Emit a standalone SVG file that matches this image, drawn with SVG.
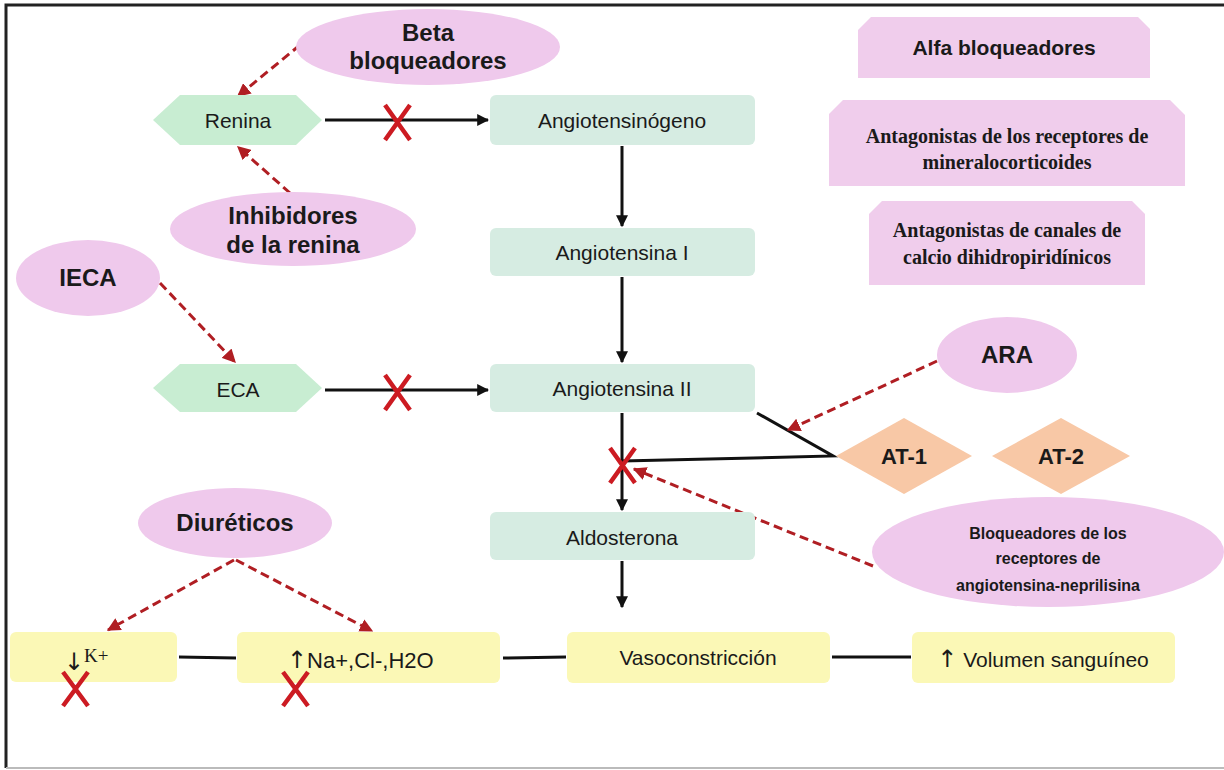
<svg xmlns="http://www.w3.org/2000/svg" width="1224" height="770" viewBox="0 0 1224 770">
<defs>
<marker id="ab" viewBox="0 0 10 10" refX="9" refY="5" markerWidth="4" markerHeight="4" orient="auto-start-reverse"><path d="M0,0 L10,5 L0,10 z" fill="#111"/></marker>
<marker id="ar" viewBox="0 0 10 10" refX="9" refY="5" markerWidth="4.5" markerHeight="4.5" orient="auto"><path d="M0,0 L10,5 L0,10 z" fill="#b01e23"/></marker>
</defs>
<style>
.sans{font-family:"Liberation Sans",Arial,sans-serif;fill:#1a1a1a}
.lbl{font-size:21px}
.bold{font-weight:bold}
.big{font-size:24px}
.serif{font-family:"Liberation Serif","Times New Roman",serif;font-weight:bold;font-size:20px;fill:#1a1a1a}
.arr{font-family:"DejaVu Sans",sans-serif;fill:#1a1a1a}
.ell{fill:#efc9ec}
.pbox{fill:#f0cdec}
.hex{fill:#c8edd2}
.gbox{fill:#d6ece2}
.ybox{fill:#fbf8b6}
.dia{fill:#f8c8a6}
.solid{stroke:#111;stroke-width:3;fill:none}
.dash{stroke:#b01e23;stroke-width:3;stroke-dasharray:9 5;fill:none}
.x{stroke:#cc1b22;stroke-width:4.5;fill:none;stroke-linecap:butt}
</style>
<rect x="0" y="0" width="1224" height="770" fill="#fff"/>
<path d="M6,768 L6,5 L1224,5" stroke="#222" stroke-width="3" fill="none"/>
<line x1="6" y1="768" x2="1224" y2="768" stroke="#bbb" stroke-width="2"/>

<g id="connectors">
<line class="solid" x1="325" y1="120" x2="488" y2="120" marker-end="url(#ab)"/>
<line class="solid" x1="325" y1="390" x2="488" y2="390" marker-end="url(#ab)"/>
<line class="solid" x1="622" y1="146" x2="622" y2="226" marker-end="url(#ab)"/>
<line class="solid" x1="622" y1="277" x2="622" y2="362" marker-end="url(#ab)"/>
<line class="solid" x1="622" y1="413" x2="622" y2="510" marker-end="url(#ab)"/>
<line class="solid" x1="622" y1="561" x2="622" y2="607" marker-end="url(#ab)"/>
<polyline class="solid" points="757,413 833,456 622,461"/>
<line class="solid" x1="179" y1="657" x2="236" y2="658"/>
<line class="solid" x1="503" y1="658" x2="566" y2="657"/>
<line class="solid" x1="832" y1="657" x2="911" y2="657"/>
<line class="dash" x1="300" y1="45" x2="238" y2="96" marker-end="url(#ar)"/>
<line class="dash" x1="290" y1="193" x2="238" y2="147" marker-end="url(#ar)"/>
<line class="dash" x1="160" y1="283" x2="235" y2="362" marker-end="url(#ar)"/>
<line class="dash" x1="937" y1="361" x2="788" y2="430" marker-end="url(#ar)"/>
<line class="dash" x1="873" y1="566" x2="634" y2="469" marker-end="url(#ar)"/>
<line class="dash" x1="234" y1="560" x2="108" y2="630" marker-end="url(#ar)"/>
<line class="dash" x1="236" y1="560" x2="372" y2="631" marker-end="url(#ar)"/>
</g>

<g id="beta">
<ellipse class="ell" cx="428" cy="47" rx="132" ry="38"/>
<text class="sans bold big" x="428" y="41" text-anchor="middle">Beta</text>
<text class="sans bold big" x="428" y="69" text-anchor="middle">bloqueadores</text>
</g>
<g id="renina">
<polygon class="hex" points="153,120 180,95 296,95 322,120 296,145 180,145"/>
<text class="sans lbl" x="238" y="128" text-anchor="middle">Renina</text>
</g>
<g id="inhibidores">
<ellipse class="ell" cx="293" cy="229" rx="123" ry="37"/>
<text class="sans bold big" x="293" y="224" text-anchor="middle">Inhibidores</text>
<text class="sans bold big" x="293" y="253" text-anchor="middle">de la renina</text>
</g>
<g id="ieca">
<ellipse class="ell" cx="88" cy="278" rx="72" ry="38"/>
<text class="sans bold big" x="88" y="286" text-anchor="middle">IECA</text>
</g>
<g id="eca">
<polygon class="hex" points="153,388 180,364 296,364 322,388 296,412 180,412"/>
<text class="sans lbl" x="238" y="397" text-anchor="middle">ECA</text>
</g>
<g id="angiotensinogeno">
<rect class="gbox" x="490" y="95" width="265" height="50" rx="6"/>
<text class="sans lbl" x="622" y="128" text-anchor="middle">Angiotensinógeno</text>
</g>
<g id="angiotensina1">
<rect class="gbox" x="490" y="228" width="265" height="48" rx="6"/>
<text class="sans lbl" x="622" y="260" text-anchor="middle">Angiotensina I</text>
</g>
<g id="angiotensina2">
<rect class="gbox" x="490" y="364" width="265" height="48" rx="6"/>
<text class="sans lbl" x="622" y="396" text-anchor="middle">Angiotensina II</text>
</g>
<g id="aldosterona">
<rect class="gbox" x="490" y="512" width="265" height="48" rx="6"/>
<text class="sans lbl" x="622" y="545" text-anchor="middle">Aldosterona</text>
</g>
<g id="alfa">
<path class="pbox" d="M871,17 L1138,17 L1150,29 L1150,78 L858,78 L858,30 Z"/>
<text class="sans bold" font-size="21" x="1004" y="55" text-anchor="middle">Alfa bloqueadores</text>
</g>
<g id="mineralo">
<path class="pbox" d="M843,100 L1170,100 L1185,115 L1185,186 L829,186 L829,114 Z"/>
<text class="serif" x="1007" y="143" text-anchor="middle">Antagonistas  de los receptores de</text>
<text class="serif" x="1007" y="169" text-anchor="middle">mineralocorticoides</text>
</g>
<g id="calcio">
<path class="pbox" d="M882,201 L1132,201 L1145,214 L1145,285 L869,285 L869,214 Z"/>
<text class="serif" x="1007" y="237" text-anchor="middle">Antagonistas  de canales de</text>
<text class="serif" x="1007" y="264" text-anchor="middle">calcio dihidropiridínicos</text>
</g>
<g id="ara">
<ellipse class="ell" cx="1007" cy="355" rx="70" ry="38"/>
<text class="sans bold big" x="1007" y="363" text-anchor="middle">ARA</text>
</g>
<g id="at1">
<polygon class="dia" points="836,456 904,418 972,456 904,494"/>
<text class="sans bold" font-size="22" x="904" y="464" text-anchor="middle">AT-1</text>
</g>
<g id="at2">
<polygon class="dia" points="992,456 1061,418 1130,456 1061,494"/>
<text class="sans bold" font-size="22" x="1061" y="464" text-anchor="middle">AT-2</text>
</g>
<g id="bloqueadores">
<ellipse class="ell" cx="1048" cy="552" rx="176" ry="55"/>
<text class="sans bold" font-size="16" x="1048" y="539" text-anchor="middle">Bloqueadores de los</text>
<text class="sans bold" font-size="16" x="1048" y="564" text-anchor="middle">receptores de</text>
<text class="sans bold" font-size="16" x="1048" y="591" text-anchor="middle">angiotensina-neprilisina</text>
</g>
<g id="diureticos">
<ellipse class="ell" cx="235" cy="523" rx="97" ry="35"/>
<text class="sans bold big" x="235" y="531" text-anchor="middle">Diuréticos</text>
</g>
<g id="k">
<rect class="ybox" x="10" y="632" width="167" height="50" rx="6"/>
<text x="64" y="670" font-family="'Liberation Serif','Times New Roman',serif" font-size="19" fill="#1a1a1a"><tspan class="arr" font-size="24">↓</tspan><tspan dy="-8">K+</tspan></text>
</g>
<g id="na">
<rect class="ybox" x="237" y="632" width="263" height="51" rx="6"/>
<text class="sans" font-size="22" x="287" y="668"><tspan class="arr" font-size="24">↑</tspan>Na+,Cl-,H2O</text>
</g>
<g id="vaso">
<rect class="ybox" x="567" y="632" width="263" height="51" rx="6"/>
<text class="sans lbl" x="698" y="665" text-anchor="middle">Vasoconstricción</text>
</g>
<g id="volumen">
<rect class="ybox" x="912" y="632" width="263" height="51" rx="6"/>
<text class="sans lbl" x="1043" y="667" text-anchor="middle"><tspan class="arr" font-size="24">↑</tspan> Volumen sanguíneo</text>
</g>
<g id="marks">
<path class="x" d="M385,105 L410,140 M410,105 L385,140"/>
<path class="x" d="M385,375 L410,410 M410,375 L385,410"/>
<path class="x" d="M610,448 L635,483 M635,448 L610,483"/>
<path class="x" d="M63,672 L88,706 M88,672 L63,706"/>
<path class="x" d="M283,672 L308,706 M308,672 L283,706"/>
</g>
</svg>
